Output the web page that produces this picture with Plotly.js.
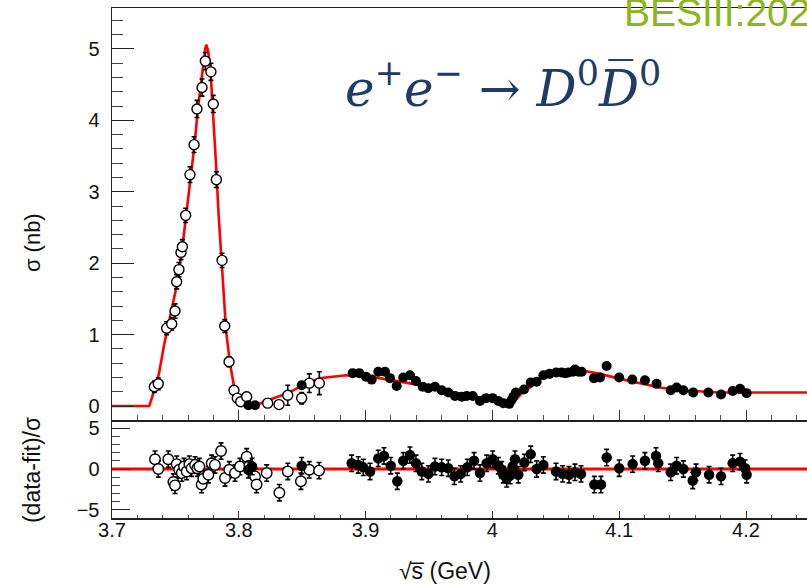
<!DOCTYPE html>
<html>
<head>
<meta charset="utf-8">
<script src="https://cdn.plot.ly/plotly-3.0.1.min.js"></script>
<style>html,body{margin:0;padding:0;background:#fff;}#plot{width:807px;height:587px;}</style>
</head>
<body>
<div id="plot"></div>
<script>
// ---- Cross section, open circles (scan data) ----
const openE = [3.7334,3.7365,3.7431,3.7471,3.7497,3.7510,3.7528,3.7544,3.7555,3.7581,3.7615,3.7647,3.7670,3.7710,3.7736,3.7780,3.7799,3.7823,3.7868,3.7889,3.7923,3.7962,3.7988,3.8015,3.8062,3.8228,3.8317,3.8386,3.8496,3.8556,3.8635];
const openS = [0.27,0.31,1.09,1.15,1.33,1.74,1.91,2.15,2.23,2.67,3.24,3.66,4.16,4.46,4.83,4.68,4.23,3.17,2.04,1.12,0.62,0.22,0.11,0.06,0.13,0.04,0.02,0.15,0.11,0.32,0.32];
const openErr = [0.08,0.08,0.09,0.09,0.10,0.10,0.10,0.10,0.10,0.10,0.11,0.11,0.12,0.12,0.12,0.12,0.12,0.11,0.10,0.09,0.07,0.05,0.04,0.04,0.06,0.05,0.05,0.14,0.08,0.13,0.16];

// ---- Cross section, filled circles ----
const fillE = [3.8075,3.8128,3.8496,3.8898,3.8950,3.9003,3.9048,3.9100,3.9153,3.9192,3.9245,3.9297,3.9350,3.9397,3.9450,3.9494,3.9547,3.9600,3.9652,3.9705,3.9758,3.9797,3.9845,3.9902,3.9950,4.0002,4.0047,4.0086,4.0133,4.0150,4.0165,4.0185,4.0249,4.0302,4.0349,4.0402,4.0450,4.0502,4.0546,4.0575,4.0599,4.0635,4.0651,4.0680,4.0704,4.0801,4.0849,4.0901,4.1000,4.1103,4.1203,4.1295,4.1406,4.1453,4.1506,4.1584,4.1703,4.1803,4.1895,4.1953,4.2005];
const fillS = [0.01,0.01,0.29,0.46,0.46,0.41,0.37,0.48,0.48,0.39,0.28,0.40,0.43,0.35,0.27,0.25,0.27,0.22,0.19,0.14,0.13,0.14,0.14,0.07,0.11,0.11,0.07,0.04,0.03,0.08,0.13,0.19,0.23,0.33,0.34,0.43,0.45,0.47,0.47,0.46,0.47,0.48,0.51,0.48,0.48,0.39,0.40,0.56,0.40,0.37,0.36,0.31,0.22,0.26,0.22,0.19,0.19,0.16,0.21,0.24,0.18];
const fillErr = 0.03;

// ---- Fit curve ----
const fitE = [3.700,3.7294,3.733,3.737,3.741,3.745,3.750,3.755,3.760,3.765,3.768,3.771,3.7735,3.7745,3.776,3.778,3.780,3.782,3.784,3.786,3.788,3.790,3.793,3.796,3.800,3.805,3.810,3.815,3.820,3.830,3.840,3.850,3.8635,3.8845,3.8977,3.911,3.9245,3.9376,3.9508,3.964,3.977,3.990,4.003,4.0138,4.0191,4.0244,4.0297,4.0375,4.0454,4.0612,4.073,4.0849,4.1006,4.1164,4.1322,4.148,4.1637,4.1795,4.2032,4.300];
const fitS = [0,0,0.20,0.45,0.85,1.20,1.60,2.15,2.90,3.65,4.20,4.65,5.00,5.06,4.95,4.60,4.05,3.40,2.70,2.10,1.50,1.05,0.60,0.30,0.12,0.04,0.01,0.02,0.06,0.12,0.19,0.29,0.39,0.43,0.42,0.39,0.35,0.31,0.26,0.21,0.17,0.12,0.08,0.06,0.10,0.20,0.26,0.38,0.45,0.48,0.49,0.45,0.38,0.32,0.26,0.22,0.20,0.19,0.19,0.19];

// ---- Residuals (data-fit)/sigma ----
const resOpenE = [3.7339,3.7365,3.7444,3.7484,3.7497,3.7510,3.7530,3.7550,3.7568,3.7589,3.7610,3.7628,3.7655,3.7673,3.7689,3.7707,3.7720,3.7760,3.7786,3.7812,3.7860,3.7891,3.7925,3.7970,3.8009,3.8062,3.8083,3.8128,3.8140,3.8220,3.8320,3.8386,3.8490,3.8556,3.8633];
const resOpenR = [1.2,0.0,1.2,-1.6,-2.0,0.6,-0.1,-0.5,0.3,-0.3,0.6,0.1,0.5,0.1,0.3,-1.9,-1.2,-0.7,0.7,0.5,2.2,-1.1,-0.1,-0.5,0.3,1.5,0.4,-0.9,-1.9,-0.5,-2.9,-0.3,-1.5,-0.1,-0.2];
const resFillE = [3.8075,3.8105,3.8496,3.8890,3.8942,3.8982,3.9035,3.9100,3.9145,3.9198,3.9250,3.9297,3.9350,3.9397,3.9443,3.9495,3.9547,3.9600,3.9652,3.9700,3.9750,3.9802,3.9855,3.9902,3.9955,4.0002,4.0047,4.0073,4.0086,4.0113,4.0139,4.0160,4.0178,4.0204,4.0252,4.0302,4.0349,4.0402,4.0502,4.0554,4.0604,4.0651,4.0699,4.0804,4.0856,4.0901,4.1000,4.1106,4.1203,4.1290,4.1308,4.1406,4.1453,4.1506,4.1580,4.1606,4.1709,4.1803,4.1895,4.1953,4.1993,4.2005];
const resFillR = [-0.1,0.3,0.4,0.7,0.5,0.2,-0.3,1.3,1.6,0.4,-1.5,1.0,1.7,0.7,-0.3,-0.6,0.3,0.2,0.1,-0.9,-0.6,0.2,1.0,-0.5,0.7,1.2,0.4,-0.1,-0.7,-1.2,-0.8,0.3,1.2,-0.7,0.8,1.8,0.0,0.5,-0.3,-0.6,-0.7,-0.4,-0.6,-1.9,-1.9,1.4,0.1,0.6,1.0,1.6,0.7,-0.4,0.4,0.0,-1.4,-0.4,-0.7,-0.9,0.7,0.9,0.1,-0.7];
const resErr = 1;
const resLineE = [3.70,4.30];
const resLineR = [0,0];

const xRange = [3.7, 4.2481];
const black = '#000000';
const errStyle = {color: black, thickness: 1.6, width: 2.5};

const traces = [
  {x: fitE, y: fitS, xaxis: 'x2', yaxis: 'y2', mode: 'lines', line: {color: '#ff0000', width: 2.6}, hoverinfo: 'skip'},
  {x: openE, y: openS, xaxis: 'x2', yaxis: 'y2', mode: 'markers',
   marker: {symbol: 'circle', size: 10, color: '#ffffff', line: {color: black, width: 1.4}},
   error_y: Object.assign({type: 'data', array: openErr, visible: true}, errStyle)},
  {x: fillE, y: fillS, xaxis: 'x2', yaxis: 'y2', mode: 'markers',
   marker: {symbol: 'circle', size: 10, color: black},
   error_y: Object.assign({type: 'constant', value: fillErr, visible: true}, errStyle)},
  {x: resLineE, y: resLineR, xaxis: 'x', yaxis: 'y', mode: 'lines', line: {color: '#ff0000', width: 3}, hoverinfo: 'skip'},
  {x: resOpenE, y: resOpenR, xaxis: 'x', yaxis: 'y', mode: 'markers',
   marker: {symbol: 'circle', size: 10.5, color: '#ffffff', line: {color: black, width: 1.4}},
   error_y: Object.assign({type: 'constant', value: resErr, visible: true}, errStyle)},
  {x: resFillE, y: resFillR, xaxis: 'x', yaxis: 'y', mode: 'markers',
   marker: {symbol: 'circle', size: 10.5, color: black},
   error_y: Object.assign({type: 'constant', value: resErr, visible: true}, errStyle)}
];

const tickFont = {family: 'Liberation Sans, Arial, sans-serif', size: 20, color: '#111111'};
const lowDom = 98/510;

const layout = {
  width: 807, height: 587,
  margin: {l: 112, r: 0, t: 8, b: 69},
  paper_bgcolor: '#ffffff', plot_bgcolor: '#ffffff',
  showlegend: false,
  xaxis: {domain: [0, 1], range: xRange, anchor: 'y', tick0: 3.7, dtick: 0.1,
    ticks: 'inside', ticklen: 7, tickwidth: 1, tickcolor: '#333',
    minor: {dtick: 0.02, ticks: 'inside', ticklen: 3, tickcolor: '#555', tickwidth: 1, showgrid: false},
    showline: true, linecolor: '#222', linewidth: 1.5, mirror: false,
    showgrid: false, zeroline: false, tickfont: tickFont, ticklabelstandoff: -7},
  yaxis: {domain: [0, lowDom], range: [-6, 6], anchor: 'x', tickvals: [-5, 0, 5], ticktext: ['\u22125', '0', '5'],
    ticks: 'inside', ticklen: 18, tickwidth: 1, tickcolor: '#222',
    minor: {tickvals: [-4,-3,-2,-1,1,2,3,4], ticks: 'inside', ticklen: 8, tickcolor: '#444', tickwidth: 1, showgrid: false},
    showline: true, linecolor: '#222', linewidth: 1.5,
    showgrid: false, zeroline: false, tickfont: tickFont, ticklabelstandoff: 7},
  xaxis2: {domain: [0, 1], range: xRange, anchor: 'y2', matches: 'x', tick0: 3.7, dtick: 0.1,
    ticks: 'inside', ticklen: 10, tickwidth: 1, tickcolor: '#333',
    minor: {dtick: 0.02, ticks: 'inside', ticklen: 5, tickcolor: '#555', tickwidth: 1, showgrid: false},
    showticklabels: false, showline: true, linecolor: '#222', linewidth: 1.5, mirror: true,
    showgrid: false, zeroline: false},
  yaxis2: {domain: [lowDom, 1], range: [-0.196, 5.574], anchor: 'x2', tick0: 0, dtick: 1,
    ticks: 'inside', ticklen: 22, tickwidth: 1, tickcolor: '#222',
    minor: {dtick: 0.2, ticks: 'inside', ticklen: 11, tickcolor: '#444', tickwidth: 1, showgrid: false},
    showline: true, linecolor: '#222', linewidth: 1.5,
    showgrid: false, zeroline: false, tickfont: tickFont, ticklabelstandoff: 7},
  annotations: [
    {xref: 'paper', yref: 'paper', x: -0.1151, y: 0.539, text: '\u03c3 (nb)', textangle: -90, showarrow: false,
     xanchor: 'center', yanchor: 'middle', font: {family: 'Liberation Sans, Arial, sans-serif', size: 22, color: '#111'}},
    {xref: 'paper', yref: 'paper', x: -0.1151, y: 0.094, text: '(data-fit)/\u03c3', textangle: -90, showarrow: false,
     xanchor: 'center', yanchor: 'middle', font: {family: 'Liberation Sans, Arial, sans-serif', size: 23, color: '#111'}},
    {xref: 'paper', yref: 'paper', x: 0.479, y: -0.104, text: '\u221as\u0305 (GeV)', showarrow: false,
     xanchor: 'center', yanchor: 'middle', font: {family: 'Liberation Sans, Arial, sans-serif', size: 23, color: '#111'}},
    {xref: 'paper', yref: 'paper', x: 0.563, y: 0.849,
     text: '<i>e</i><sup>+</sup><i>e</i><sup>\u2212</sup> \u2192 <i>D</i><sup>0</sup><i>D\u0305</i><sup>0</sup>',
     showarrow: false, xanchor: 'center', yanchor: 'middle',
     font: {family: 'DejaVu Serif, serif', size: 50, color: '#1f3b66'}},
    {xref: 'paper', yref: 'paper', x: 0.7334, y: 0.9914, text: 'BESIII:2024', showarrow: false,
     xanchor: 'left', yanchor: 'middle', font: {family: 'Liberation Sans, Arial, sans-serif', size: 39, color: '#8db51e'}}
  ]
};

Plotly.newPlot('plot', traces, layout, {staticPlot: true, displayModeBar: false});
</script>
</body>
</html>
